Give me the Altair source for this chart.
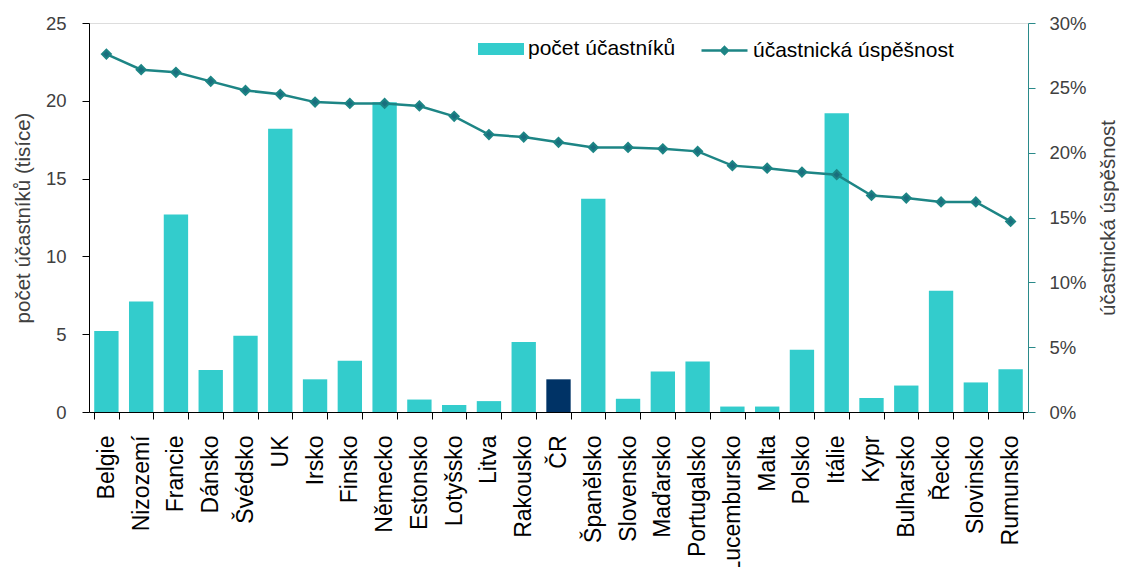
import altair as alt
import pandas as pd

countries = ["Belgie", "Nizozemí", "Francie", "Dánsko", "Švédsko", "UK", "Irsko",
             "Finsko", "Německo", "Estonsko", "Lotyšsko", "Litva", "Rakousko", "ČR",
             "Španělsko", "Slovensko", "Maďarsko", "Portugalsko", "Lucembursko",
             "Malta", "Polsko", "Itálie", "Kypr", "Bulharsko", "Řecko", "Slovinsko",
             "Rumunsko"]
participants = [5.2, 7.1, 12.7, 2.7, 4.9, 18.2, 2.1, 3.3, 19.9, 0.8, 0.45, 0.7, 4.5,
                2.1, 13.7, 0.85, 2.6, 3.25, 0.35, 0.35, 4.0, 19.2, 0.9, 1.7, 7.8,
                1.9, 2.75]
success = [27.6, 26.4, 26.2, 25.5, 24.8, 24.5, 23.9, 23.8, 23.8, 23.6, 22.8, 21.4,
           21.2, 20.8, 20.4, 20.4, 20.3, 20.1, 19.0, 18.8, 18.5, 18.3, 16.7, 16.5,
           16.2, 16.2, 14.7]
left_ticks = [0, 5, 10, 15, 20, 25]
right_ticks = [0, 0.05, 0.1, 0.15, 0.2, 0.25, 0.3]

bar_name = "počet účastníků"
line_name = "účastnická úspěšnost"
highlight = "ČR"

df = pd.DataFrame({
    "země": countries,
    "počet": participants,
    "úspěšnost": [v / 100 for v in success],
    "skupina": [highlight if c == highlight else bar_name for c in countries],
    "řada": line_name,
})

FONT = "Liberation Sans"
W, H = 939, 389

x_enc = alt.X("země:N", sort=countries,
              scale=alt.Scale(paddingInner=0.3, paddingOuter=0.15),
              axis=alt.Axis(title=None, labelAngle=-90, labelFontSize=23,
                            labelColor="black", labelPadding=16, tickBand="extent",
                            tickSize=7, tickColor="black", domainColor="black",
                            labelFont=FONT))

bars = alt.Chart(df).mark_bar().encode(
    x=x_enc,
    y=alt.Y("počet:Q", scale=alt.Scale(domain=[0, 25]),
            axis=alt.Axis(title="počet účastníků (tisíce)", values=left_ticks,
                          grid=False, domainColor="black", tickColor="black",
                          tickSize=7, labelFontSize=18.5, labelColor="#404040",
                          titleFontSize=20.5, titleFontWeight="normal", titleColor="#404040",
                          titleX=-66, titleY=H / 2, titleAngle=-90, titleAlign="center",
                          titleBaseline="middle",
                          labelPadding=16, labelFont=FONT, titleFont=FONT)),
    color=alt.Color("skupina:N",
                    scale=alt.Scale(domain=[bar_name, highlight], range=["#33CCCC", "#003366"]),
                    legend=alt.Legend(title=None, values=[bar_name], orient="none",
                                      legendX=389, legendY=3,
                                      symbolType="M-1,-0.26H1V0.26H-1Z", symbolSize=2116,
                                      symbolStrokeWidth=0, labelFontSize=21,
                                      labelFont=FONT, labelColor="black", labelLimit=400)),
)

line = alt.Chart(df).mark_line(color="#1D8585", strokeWidth=2.5,
                               point=alt.OverlayMarkDef(shape="diamond", size=80,
                                                        filled=True, color="#1A6E7E")).encode(
    x=alt.X("země:N", sort=countries),
    y=alt.Y("úspěšnost:Q", scale=alt.Scale(domain=[0, 0.3]),
            axis=alt.Axis(title=line_name, orient="right", format=".0%",
                          values=right_ticks, grid=False,
                          domainColor="#2A8A8A", tickColor="#2A8A8A", tickSize=7,
                          labelFontSize=18.5, labelColor="#404040", titleFontSize=20.5,
                          titleFontWeight="normal", titleColor="#404040", titleAngle=-90,
                          titleX=80, titleY=H / 2, titleAlign="center", titleBaseline="middle",
                          labelPadding=14, labelFont=FONT, titleFont=FONT)),
    stroke=alt.Stroke("řada:N", scale=alt.Scale(domain=[line_name], range=["#1D8585"]),
                      legend=alt.Legend(title=None, orient="none", legendX=611, legendY=3,
                                        symbolType="M-1,0H1M0,-0.15L0.15,0L0,0.15L-0.15,0Z",
                                        symbolSize=2116, symbolStrokeWidth=2.5,
                                        symbolFillColor="#1A6E7E", labelFontSize=21,
                                        labelFont=FONT, labelColor="black", labelLimit=400)),
)

chart = alt.layer(bars, line).resolve_scale(y="independent", color="independent").properties(
    width=W, height=H,
    autosize=alt.AutoSizeParams(type="none"),
    padding={"left": 81, "top": 15, "right": 91, "bottom": 155},
).configure_view(stroke="#888888", strokeWidth=1.5).configure(font=FONT)

chart.save("out.html", embed_options={"renderer": "svg", "actions": False})
